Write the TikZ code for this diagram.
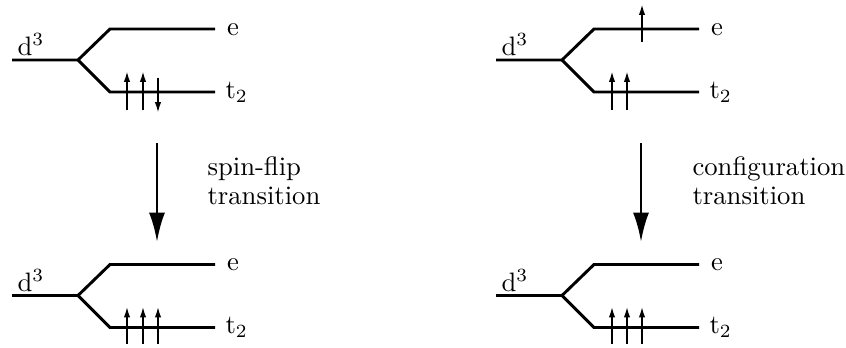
\documentclass[tikz,border=0pt]{standalone}
\usetikzlibrary{arrows.meta}
\tikzset{
  lvl/.style={line width=1.1pt},
  spin/.style={line width=0.55pt,-{Latex[length=3.9pt,width=2.4pt]}},
  bigarrow/.style={line width=1.1pt,-{Latex[length=11pt,width=6pt]}},
  lbl/.style={inner sep=0pt,anchor=base west},
}
\newcommand\splitdiag[3]{%
  \begin{scope}[shift={(#1,#2)}]
    \coordinate (#3d) at (12,60);
    \coordinate (#3b) at (78,60);
    \coordinate (#3e1) at (110,29);
    \coordinate (#3e2) at (215,29);
    \coordinate (#3t1) at (110,92);
    \coordinate (#3t2) at (215,92);
    \draw[lvl] (#3d) -- (#3b) -- (#3e1) -- (#3e2);
    \draw[lvl] (#3b) -- (#3t1) -- (#3t2);
    \node[lbl] (#3dl) at (17,55.5) {d$^3$};
    \node[lbl] (#3el) at (226.5,35) {e};
    \node[lbl] (#3tl) at (225,98) {t$_2$};
  \end{scope}}
\begin{document}
\begin{tikzpicture}[x=0.375pt,y=-0.375pt]
  \useasboundingbox (0,0) rectangle (846,347);
  % top left
  \splitdiag{0}{0}{A}
  \draw[spin] (127,109.5) -- (127,71.5);
  \draw[spin] (143,109.5) -- (143,71.5);
  \draw[spin] (158,77.5) -- (158,112.5);
  % top right
  \splitdiag{484}{0}{B}
  \draw[spin] (612,109.5) -- (612,71.5);
  \draw[spin] (627,109.5) -- (627,71.5);
  \draw[spin] (642,42) -- (642,4.5);
  % bottom left
  \splitdiag{0}{235.5}{C}
  \draw[spin] (127,344) -- (127,307);
  \draw[spin] (143,344) -- (143,307);
  \draw[spin] (158,344) -- (158,307);
  % bottom right
  \splitdiag{484}{235.5}{D}
  \draw[spin] (612,344) -- (612,307);
  \draw[spin] (627,344) -- (627,307);
  \draw[spin] (642,344) -- (642,307);
  % transitions
  \coordinate (L1) at (157,143);
  \coordinate (L2) at (157,242);
  \coordinate (R1) at (641,143);
  \coordinate (R2) at (641,242);
  \draw[bigarrow] (L1) -- (L2);
  \draw[bigarrow] (R1) -- (R2);
  \node[lbl] (ls1) at (207,175) {spin-flip};
  \node[lbl] (ls2) at (207,204) {transition};
  \node[lbl] (rs1) at (692,175) {configuration};
  \node[lbl] (rs2) at (692,204) {transition};
\end{tikzpicture}
\end{document}
